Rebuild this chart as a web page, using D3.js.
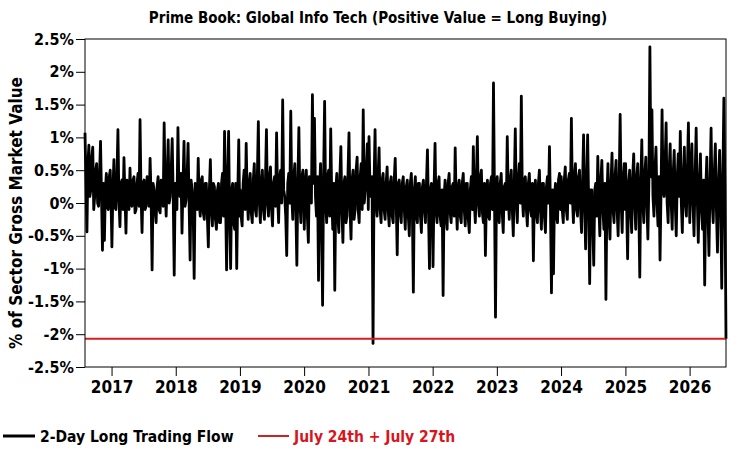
<!DOCTYPE html>
<html>
<head>
<meta charset="utf-8">
<title>Prime Book: Global Info Tech</title>
<script src="https://d3js.org/d3.v7.min.js"></script>
<style>
  body { margin: 0; background: #fff; }
  text { font-family: "DejaVu Sans Condensed", "DejaVu Sans", sans-serif; font-stretch: condensed; font-weight: bold; }
</style>
</head>
<body>
<svg id="chart" width="750" height="450"></svg>
<script>
// 2-day long trading flow, % of sector gross market value
// one array per calendar year, values evenly spread over that year's span
var flow2016 = [1.07, 0.3, -0.44, 0.6, 0.88, 0.1, 0.2, 0.7, 0.85, -0.1, 0.1, 0.5, 0.6, 0.0, -0.05, 0.45,
                0.94, 0.1, -0.72, 0.3, -0.57, 0.2, 0.45, -0.05, -0.1, 0.4, 0.5, -0.1];
var flow2017 = [-0.67, 0.2, 0.66, -0.05, -0.1, 0.4, 1.12, 0.05, -0.36, 0.3, 0.35, -0.1, 0.69, 0.1, -0.46, 0.35,
                0.3, -0.1, 0.53, 0.0, -0.05, 0.35, 0.4, -0.15, -0.1, 0.3, 0.45, -0.05, 1.27, 0.1, -0.45, 0.3,
                0.35, -0.1, -0.05, 0.4, 0.3, -0.05, 0.68, 0.1, -1.02, 0.3, 0.2, -0.1, -0.3, 0.25, 0.4, -0.1,
                -0.15, 0.35, 0.3, -0.05, 1.22, 0.2, -0.2, 0.4, 0.96, 0.0, 0.1, 0.5, 0.98, 0.1, -1.10, 0.3];
var flow2018 = [0.3, -0.1, 1.15, 0.2, 0.1, 0.45, -0.46, 0.3, 0.94, -0.05, 0.05, 0.4, 0.91, 0.0, -0.87, 0.35,
                0.2, -0.1, -1.15, 0.3, 0.25, -0.1, 0.68, 0.0, -0.2, 0.35, 0.4, -0.15, -0.25, 0.3, 0.3, -0.2,
                -0.67, 0.2, 0.66, -0.1, -0.35, 0.3, 0.25, -0.25, -0.4, 0.2, 0.3, -0.3, -0.3, 0.3, 0.45, -0.2,
                1.09, 0.1, -1.02, 0.3, 1.09, -0.2, -1.0, 0.2, 0.3, -0.3, -0.4, 0.3, -1.0, 0.1, 0.96, -0.2];
var flow2019 = [0.2, -0.2, -0.35, 0.3, 0.5, -0.1, 0.91, 0.1, -0.25, 0.3, 0.45, -0.15, -0.3, 0.35, 0.6, -0.1,
                -0.2, 0.4, 1.24, 0.0, -0.3, 0.3, 0.5, -0.1, -0.25, 0.35, 1.12, 0.0, -0.2, 0.4, 0.55, -0.1,
                -0.35, 0.3, 0.4, -0.05, 1.07, 0.1, -0.3, 0.4, 0.5, 0.0, 1.57, 0.2, 0.1, -0.2, -0.80, 0.3,
                0.45, 0.0, 1.40, 0.1, -0.25, 0.4, 0.6, -0.1, -0.95, 0.3, 1.15, 0.0, -0.3, 0.4, 0.5, -0.1];
var flow2020 = [-0.4, 0.3, 0.5, -0.2, -0.6, 0.4, 0.35, 0.0, 1.65, 0.3, 1.29, 0.1, -0.2, 0.4, -1.18, 0.2,
                0.6, -0.3, -1.56, 0.4, 1.55, 0.0, -0.3, 0.4, 0.5, -0.2, 1.13, 0.1, -0.4, 0.3, -1.33, 0.2,
                0.45, -0.2, -0.45, 0.4, 0.86, -0.1, -0.6, 0.3, 0.4, -0.3, -0.2, 0.45, 1.07, -0.1, -0.55, 0.35,
                0.5, -0.25, -0.1, 0.5, 0.7, -0.1, -0.3, 0.4, 0.6, -0.1, 1.42, 0.0, 0.2, 0.5, 0.9, -0.1];
var flow2021 = [1.01, 0.2, 0.1, 0.4, -2.14, 0.3, 1.12, 0.0, -0.2, 0.4, 0.84, -0.1, -0.3, 0.35, 0.45, -0.1,
                -0.25, 0.3, 0.55, -0.1, -0.35, 0.3, 0.4, -0.2, -0.3, 0.35, 0.68, 0.0, -0.79, 0.3, 0.35, -0.15,
                -0.3, 0.3, 0.4, -0.1, -0.4, 0.25, 0.35, -0.2, -0.5, 0.3, 0.45, -0.1, -1.36, 0.2, 0.4, -0.2,
                -0.3, 0.3, 0.3, -0.2, -0.45, 0.25, 0.35, -0.1, -0.3, 0.3, 0.81, -0.1, -1.0, 0.2, 0.3, -0.25];
var flow2022 = [-0.97, 0.2, 0.91, -0.1, -0.3, 0.3, 0.4, -0.2, -0.35, 0.2, -1.41, 0.1, 0.35, -0.2, -0.4, 0.3,
                0.45, -0.15, -0.3, 0.25, 0.3, -0.2, 0.84, 0.0, -0.4, 0.25, 0.35, -0.2, -0.3, 0.3, 0.45, -0.1,
                -0.35, 0.3, 0.3, -0.25, -0.45, 0.2, 0.4, -0.1, 0.86, 0.0, -0.3, 0.35, 1.01, 0.0, -0.2, 0.4,
                0.5, -0.15, -0.3, 0.3, -0.80, 0.1, 0.35, -0.2, -0.25, 0.3, 0.4, -0.1, 1.83, 0.1, -1.74, 0.2];
var flow2023 = [0.4, -0.1, -0.3, 0.3, 0.45, -0.15, -0.45, 0.25, 0.3, -0.1, 1.01, 0.1, -0.25, 0.35, 0.5, -0.1,
                -0.5, 0.3, 1.13, 0.0, -0.3, 0.35, 0.6, 0.0, 1.63, 0.1, -0.2, 0.35, 0.4, -0.1, -0.35, 0.3,
                0.45, -0.1, -0.2, 0.3, -0.88, 0.1, 0.35, -0.15, -0.3, 0.3, 0.5, -0.1, -0.4, 0.3, 0.3, -0.2,
                -0.45, 0.25, 0.4, 0.0, 0.86, -0.1, -1.37, 0.2, -1.08, 0.1, 0.3, -0.2, -0.3, 0.35, 0.45, -0.1];
var flow2024 = [0.4, -0.1, -0.3, 0.35, 0.55, -0.1, -0.25, 0.35, 0.45, 0.0, 1.29, 0.1, -0.3, 0.4, 0.6, -0.1,
                -0.2, 0.4, 0.5, -0.1, -0.45, 0.3, 1.04, 0.0, -0.70, 0.3, 1.04, 0.0, -1.23, 0.2, 0.2, -0.3,
                -0.95, 0.2, 0.3, -0.2, 0.71, 0.0, -0.5, 0.35, 0.65, -0.1, -0.4, 0.3, -1.47, 0.1, 0.6, -0.2,
                -0.55, 0.3, 0.76, -0.1, -0.3, 0.4, 0.65, -0.1, -0.5, 0.3, 1.35, 0.0, -0.45, 0.35, 0.6, -0.1];
var flow2025 = [0.6, 0.0, -0.85, 0.3, 0.5, -0.1, -0.45, 0.4, 0.75, 0.0, -0.4, 0.4, 0.6, 0.0, -1.13, 0.3,
                0.96, 0.0, -0.3, 0.45, 0.7, 0.0, -0.55, 0.3, 2.38, 0.4, 1.42, 0.1, -0.2, 0.5, 0.85, 0.0,
                -0.35, 0.4, -0.87, 0.2, 1.42, 0.2, 0.1, 0.6, 1.22, 0.0, -0.3, 0.5, 0.9, 0.0, -0.4, 0.45,
                0.8, 0.0, -0.5, 0.4, 0.75, 0.1, 1.09, 0.0, -0.45, 0.4, 0.85, 0.0, -0.2, 0.5, 1.22, 0.1];
var flow2026 = [-0.3, 0.4, 0.9, 0.0, -0.5, 0.4, 1.14, 0.1, -0.6, 0.3, 0.75, -0.1, -0.4, 0.35, -1.25, 0.2,
                0.7, -0.1, -0.8, 0.3, 1.14, 0.0, -0.3, 0.45, 0.9, -0.1, -0.75, 0.3, 0.8, 0.0, -1.30, 0.3,
                1.60, 0.2, -2.07];

var yearFlows = [flow2016, flow2017, flow2018, flow2019, flow2020, flow2021, flow2022, flow2023, flow2024, flow2025, flow2026];
var spanStart = ["2016-08-03", "2017-01-03", "2018-01-02", "2019-01-02", "2020-01-02", "2021-01-04",
                 "2022-01-03", "2023-01-03", "2024-01-02", "2025-01-02", "2026-01-02"];
var spanEnd   = ["2016-12-30", "2017-12-29", "2018-12-31", "2019-12-31", "2020-12-31", "2021-12-31",
                 "2022-12-30", "2023-12-29", "2024-12-31", "2025-12-31", "2026-07-27"];

var latestFlow = -2.07;   // July 24th + July 27th
var yTicks = [-2.5, -2, -1.5, -1, -0.5, 0, 0.5, 1, 1.5, 2, 2.5];
var yTickLabels = ["-2.5%", "-2%", "-1.5%", "-1%", "-0.5%", "0%", "0.5%", "1%", "1.5%", "2%", "2.5%"];
var xTickYears = [2017, 2018, 2019, 2020, 2021, 2022, 2023, 2024, 2025, 2026];

var parse = d3.timeParse("%Y-%m-%d");

// build the point list
var data = [];
yearFlows.forEach(function(vals, k) {
  var t0 = parse(spanStart[k]).getTime(), t1 = parse(spanEnd[k]).getTime();
  vals.forEach(function(v, i) {
    data.push({date: new Date(t0 + (t1 - t0) * i / (vals.length - 1)), value: v});
  });
});

var plotLeft = 85, plotRight = 726, plotTop = 39, plotBottom = 367;

var svg = d3.select("#chart");

var x = d3.scaleTime()
    .domain([parse(spanStart[0]), parse(spanEnd[spanEnd.length - 1])])
    .range([plotLeft, plotRight]);

var y = d3.scaleLinear()
    .domain([-2.5, 2.5])
    .range([plotBottom, plotTop]);

// title
svg.append("text")
    .attr("x", 378)
    .attr("y", 23)
    .attr("text-anchor", "middle")
    .style("font-size", "15px")
    .text("Prime Book: Global Info Tech (Positive Value = Long Buying)");

// series
var line = d3.line()
    .x(function(d) { return x(d.date); })
    .y(function(d) { return y(d.value); });

svg.append("path")
    .datum(data)
    .attr("fill", "none")
    .attr("stroke", "#000")
    .attr("stroke-width", 2.8)
    .attr("stroke-linejoin", "round")
    .attr("d", line);

// latest reading
svg.append("line")
    .attr("x1", plotLeft).attr("x2", plotRight)
    .attr("y1", y(latestFlow)).attr("y2", y(latestFlow))
    .attr("stroke", "#d21f1f")
    .attr("stroke-width", 2);

// frame
svg.append("rect")
    .attr("x", plotLeft).attr("y", plotTop)
    .attr("width", plotRight - plotLeft).attr("height", plotBottom - plotTop)
    .attr("fill", "none")
    .attr("stroke", "#000")
    .attr("stroke-width", 1);

function styleAxis(size) {
  return function(g) {
    g.select(".domain").remove();
    g.selectAll("text").attr("fill", "#000").style("font-size", size);
    g.selectAll("line").attr("stroke", "#000");
  };
}

// y axis
svg.append("g")
    .attr("transform", "translate(" + plotLeft + ",0)")
    .call(d3.axisLeft(y)
            .tickValues(yTicks)
            .tickSize(9)
            .tickPadding(2)
            .tickFormat(function(d, i) { return yTickLabels[i]; }))
    .call(styleAxis("16px"));

// x axis
svg.append("g")
    .attr("transform", "translate(0," + plotBottom + ")")
    .call(d3.axisBottom(x)
            .tickValues(xTickYears.map(function(yr) { return new Date(yr, 0, 1); }))
            .tickSize(9)
            .tickPadding(5)
            .tickFormat(d3.timeFormat("%Y")))
    .call(styleAxis("17px"));

// y axis title
svg.append("text")
    .attr("transform", "rotate(-90)")
    .attr("x", -213)
    .attr("y", 22)
    .attr("text-anchor", "middle")
    .style("font-size", "17px")
    .text("% of Sector Gross Market Value");

// legend
svg.append("line")
    .attr("x1", 3).attr("x2", 35).attr("y1", 436).attr("y2", 436)
    .attr("stroke", "#000").attr("stroke-width", 3);
svg.append("text")
    .attr("x", 40).attr("y", 442)
    .style("font-size", "15.5px")
    .attr("fill", "#000")
    .text("2-Day Long Trading Flow");
svg.append("line")
    .attr("x1", 258).attr("x2", 289).attr("y1", 436).attr("y2", 436)
    .attr("stroke", "#d21f1f").attr("stroke-width", 2);
svg.append("text")
    .attr("x", 294).attr("y", 442)
    .style("font-size", "15.5px")
    .attr("fill", "#d8141c")
    .text("July 24th + July 27th");
</script>
</body>
</html>
